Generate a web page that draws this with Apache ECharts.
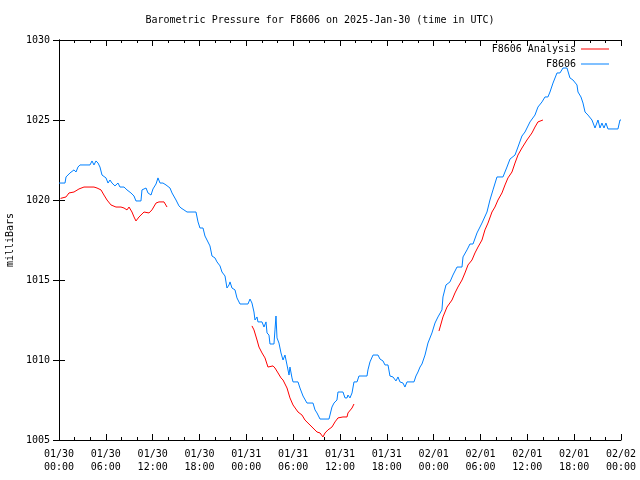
<!DOCTYPE html>
<html><head><meta charset="utf-8">
<script src="https://cdn.jsdelivr.net/npm/echarts@6/dist/echarts.min.js"></script>
<style>html,body{margin:0;padding:0;background:#fff}#c{width:640px;height:480px}</style>
</head><body><div id="c"></div>
<script>
const titleText = 'Barometric Pressure for F8606 on 2025-Jan-30 (time in UTC)';
const yAxisName = 'milliBars';
const xTickLabels = ['01/30\n00:00','01/30\n06:00','01/30\n12:00','01/30\n18:00','01/31\n00:00','01/31\n06:00','01/31\n12:00','01/31\n18:00','02/01\n00:00','02/01\n06:00','02/01\n12:00','02/01\n18:00','02/02\n00:00'];
const seriesNames = ['F8606 Analysis','F8606'];

// F8606 observed (hours since 01/30 00:00 UTC, mbar)
const obsHours = [0,0.77,0.9,1.41,1.92,2.18,2.43,2.69,3.97,4.23,4.48,4.74,5.0,5.25,5.51,5.76,6.02,6.28,6.53,6.79,7.17,7.56,7.81,8.33,8.71,9.22,9.61,9.86,10.5,10.63,11.15,11.4,11.79,12.04,12.43,12.68,12.94,13.32,13.71,13.96,14.22,14.48,14.99,15.37,15.63,16.01,16.4,17.55,17.81,18.06,18.45,18.7,18.96,19.34,19.6,19.98,20.24,20.63,20.88,21.27,21.52,21.78,21.91,22.16,22.55,22.8,23.19,24.21,24.47,24.72,24.98,25.11,25.37,25.49,26.01,26.26,26.52,26.65,26.9,27.03,27.54,27.67,27.8,27.93,28.18,28.44,28.7,28.95,29.21,29.47,29.59,29.85,29.98,30.62,30.87,31.26,31.77,32.54,32.8,33.05,33.44,34.59,34.97,35.23,35.61,35.74,36.38,36.64,36.9,37.02,37.28,37.54,37.79,38.18,38.43,39.46,39.58,39.84,40.23,40.87,41.12,41.51,41.76,42.15,42.4,42.79,43.17,43.43,43.68,44.07,44.32,44.58,45.48,45.73,45.99,46.25,46.5,46.89,47.27,47.78,48.17,48.55,49.06,49.19,49.58,50.09,50.47,50.99,51.63,51.76,52.27,52.65,53.04,53.55,54.19,54.83,55.21,55.6,56.11,56.88,57.39,57.78,58.42,58.8,59.31,59.7,60.34,60.98,61.36,61.88,62.26,62.64,62.9,63.29,63.8,64.18,64.57,65.08,65.46,65.85,66.36,66.49,66.87,67.13,67.39,67.77,68.28,68.67,68.92,69.05,69.31,69.56,69.82,70.07,70.33,71.61,71.87,72];
const obsPressure = [1021.06,1021.06,1021.44,1021.69,1021.88,1021.75,1022.06,1022.19,1022.19,1022.44,1022.19,1022.44,1022.31,1022.06,1021.56,1021.5,1021.38,1021.06,1021.25,1021.06,1020.88,1021.06,1020.81,1020.81,1020.63,1020.44,1020.25,1019.94,1019.94,1020.63,1020.75,1020.44,1020.31,1020.69,1021.0,1021.38,1021.06,1021.06,1020.94,1021.06,1020.75,1020.44,1020.0,1019.63,1019.5,1019.38,1019.25,1019.25,1018.63,1018.25,1018.25,1017.75,1017.5,1017.13,1016.5,1016.38,1016.13,1015.88,1015.5,1015.25,1014.5,1014.69,1014.88,1014.5,1014.38,1013.88,1013.5,1013.5,1013.81,1013.56,1013.0,1012.5,1012.69,1012.38,1012.38,1012.06,1012.38,1011.69,1011.56,1011.0,1011.0,1011.88,1012.75,1011.38,1011.06,1010.44,1010.0,1010.31,1009.69,1009.06,1009.56,1008.88,1008.63,1008.63,1008.25,1007.75,1007.31,1007.31,1006.88,1006.69,1006.31,1006.31,1007.06,1007.31,1007.5,1008.0,1008.0,1007.63,1007.63,1007.81,1007.63,1007.94,1008.63,1008.63,1009.0,1009.0,1009.38,1009.88,1010.31,1010.31,1010.06,1009.94,1009.69,1009.69,1009.0,1008.94,1008.69,1008.94,1008.63,1008.56,1008.31,1008.63,1008.63,1009.0,1009.25,1009.56,1009.75,1010.31,1011.06,1011.69,1012.31,1012.69,1013.13,1013.94,1014.69,1014.88,1015.31,1015.81,1015.81,1016.44,1016.88,1017.25,1017.25,1017.94,1018.56,1019.25,1020.0,1020.63,1021.44,1021.44,1022.06,1022.56,1022.81,1023.31,1024.0,1024.25,1024.88,1025.31,1025.81,1026.13,1026.44,1026.44,1026.75,1027.31,1027.94,1027.94,1028.25,1028.25,1027.63,1027.5,1027.19,1026.75,1026.44,1026.06,1025.5,1025.31,1025.0,1024.5,1024.5,1025.0,1024.5,1024.81,1024.5,1024.81,1024.44,1024.44,1025.0,1025.0];

// F8606 Analysis (null = gap between segments)
const anaHours = [0.2,0.9,1.28,1.92,2.56,3.2,4.48,4.87,5.38,5.76,6.15,6.66,7.3,7.94,8.33,8.71,8.97,9.35,9.61,9.86,10.25,10.89,11.53,11.91,12.43,12.81,13.45,13.84,
  19.0,
  24.72,24.98,25.37,25.62,26.01,26.39,26.77,27.42,27.67,28.06,28.44,28.7,29.21,29.59,29.98,30.62,31.13,31.51,31.9,32.54,33.05,33.44,33.82,34.08,34.46,34.97,35.36,35.74,36.38,36.9,37.02,37.54,37.79,
  43.0,
  48.68,49.19,49.71,49.96,50.35,50.73,51.11,51.63,52.01,52.4,52.91,53.29,53.68,54.19,54.57,54.96,55.47,55.85,56.24,56.75,57.14,57.52,58.03,58.42,58.8,59.31,59.95,60.59,60.98,61.36,62.0];
const anaPressure = [1020.1,1020.19,1020.44,1020.5,1020.69,1020.81,1020.81,1020.75,1020.63,1020.31,1020.0,1019.69,1019.56,1019.56,1019.5,1019.38,1019.56,1019.25,1018.94,1018.69,1018.94,1019.25,1019.19,1019.38,1019.81,1019.88,1019.88,1019.56,
  null,
  1012.13,1011.88,1011.25,1010.81,1010.44,1010.13,1009.56,1009.63,1009.5,1009.19,1008.88,1008.75,1008.25,1007.63,1007.19,1006.75,1006.56,1006.25,1006.06,1005.75,1005.5,1005.44,1005.19,1005.44,1005.63,1005.81,1006.13,1006.38,1006.44,1006.44,1006.69,1007.0,1007.25,
  null,
  1011.81,1012.69,1013.31,1013.25,1013.75,1014.19,1014.56,1015.0,1015.44,1015.94,1016.25,1016.69,1017.06,1017.5,1018.13,1018.56,1019.25,1019.56,1020.0,1020.44,1020.94,1021.38,1021.75,1022.31,1022.81,1023.25,1023.75,1024.19,1024.56,1024.88,1025.0];

const font = 'DejaVu Sans Mono';
const zip = (a, b) => a.map((h, i) => [h, b[i]]);
const chart = echarts.init(document.getElementById('c'), null, {renderer: 'canvas'});
const axLine = {show: true, lineStyle: {color: '#000', width: 1}};
chart.setOption({
  animation: false,
  backgroundColor: '#fff',
  title: {text: titleText, left: 'center', top: 10, textStyle: {fontFamily: font, fontSize: 10, fontWeight: 'normal', color: '#000'}},
  legend: {
    data: seriesNames, orient: 'vertical', right: 26, top: 39, align: 'right',
    icon: 'rect', itemWidth: 28, itemHeight: 1, itemGap: 5,
    textStyle: {fontFamily: font, fontSize: 10, color: '#000', lineHeight: 10}
  },
  grid: {left: 59, right: 19, top: 40, bottom: 40, containLabel: false, outerBoundsMode: 'none'},
  xAxis: [{
    type: 'value', min: 0, max: 72, interval: 6, position: 'bottom',
    axisLine: axLine, splitLine: {show: false},
    axisTick: {show: true, inside: true, length: 6, lineStyle: {color: '#000'}},
    minorTick: {show: true, splitNumber: 3, length: 3, lineStyle: {color: '#000'}},
    axisLabel: {fontFamily: font, fontSize: 10, color: '#000', margin: 8, lineHeight: 13,
      formatter: v => xTickLabels[Math.round(v / 6)]}
  }, {
    type: 'value', min: 0, max: 72, interval: 6, position: 'top',
    axisLine: axLine, splitLine: {show: false}, axisLabel: {show: false},
    axisTick: {show: true, inside: true, length: 6, lineStyle: {color: '#000'}},
    minorTick: {show: true, splitNumber: 3, length: 3, lineStyle: {color: '#000'}}
  }],
  yAxis: [{
    type: 'value', min: 1005, max: 1030, interval: 5, position: 'left',
    name: yAxisName, nameLocation: 'middle', nameGap: 44, nameRotate: 90,
    nameTextStyle: {fontFamily: font, fontSize: 10, color: '#000'},
    axisLine: axLine, splitLine: {show: false},
    axisTick: {show: true, inside: true, length: 6, lineStyle: {color: '#000'}},
    axisLabel: {fontFamily: font, fontSize: 10, color: '#000', margin: 9, formatter: v => String(v)}
  }, {
    type: 'value', min: 1005, max: 1030, interval: 5, position: 'right',
    axisLine: axLine, splitLine: {show: false}, axisLabel: {show: false},
    axisTick: {show: true, inside: true, length: 6, lineStyle: {color: '#000'}}
  }],
  series: [{
    name: seriesNames[0], type: 'line', data: zip(anaHours, anaPressure),
    showSymbol: false, symbol: 'none', connectNulls: false,
    lineStyle: {color: '#ff0000', width: 1}, itemStyle: {color: '#ff0000'}, z: 3
  }, {
    name: seriesNames[1], type: 'line', data: zip(obsHours, obsPressure),
    showSymbol: false, symbol: 'none',
    lineStyle: {color: '#0080ff', width: 1}, itemStyle: {color: '#0080ff'}, z: 2
  }]
});
</script></body></html>
